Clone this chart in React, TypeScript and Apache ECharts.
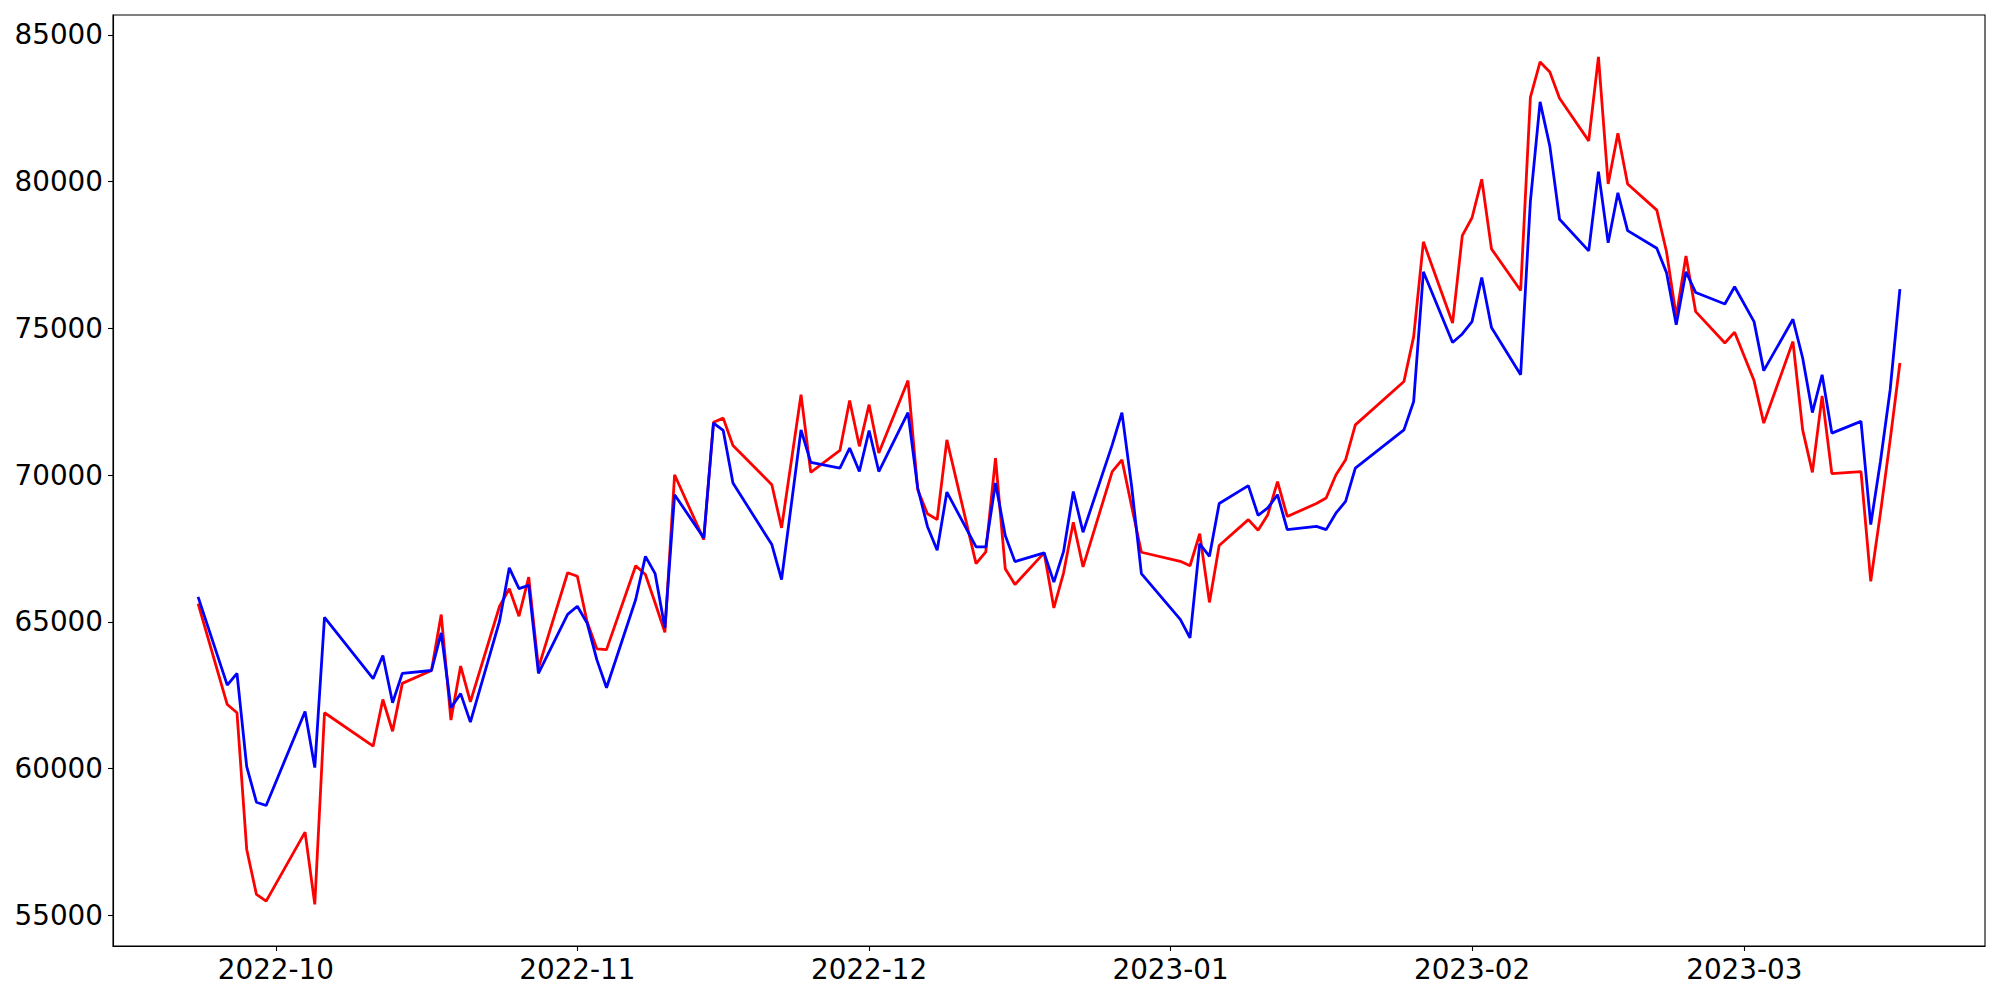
import React, { useEffect, useRef } from "react";
import * as echarts from "echarts";

const dates: string[] = [
  "2022-09-23", "2022-09-26", "2022-09-27", "2022-09-28", "2022-09-29", "2022-09-30",
  "2022-10-04", "2022-10-05", "2022-10-06", "2022-10-11", "2022-10-12", "2022-10-13", "2022-10-14",
  "2022-10-17", "2022-10-18", "2022-10-19", "2022-10-20", "2022-10-21",
  "2022-10-24", "2022-10-25", "2022-10-26", "2022-10-27", "2022-10-28",
  "2022-10-31", "2022-11-01", "2022-11-02", "2022-11-03", "2022-11-04",
  "2022-11-07", "2022-11-08", "2022-11-09", "2022-11-10", "2022-11-11",
  "2022-11-14", "2022-11-15", "2022-11-16", "2022-11-17",
  "2022-11-21", "2022-11-22", "2022-11-24", "2022-11-25",
  "2022-11-28", "2022-11-29", "2022-11-30", "2022-12-01", "2022-12-02",
  "2022-12-05", "2022-12-06", "2022-12-07", "2022-12-08", "2022-12-09",
  "2022-12-12", "2022-12-13", "2022-12-14", "2022-12-15", "2022-12-16",
  "2022-12-19", "2022-12-20", "2022-12-21", "2022-12-22", "2022-12-23",
  "2022-12-26", "2022-12-27", "2022-12-28", "2022-12-29",
  "2023-01-02", "2023-01-03", "2023-01-04", "2023-01-05", "2023-01-06",
  "2023-01-09", "2023-01-10", "2023-01-11", "2023-01-12", "2023-01-13",
  "2023-01-16", "2023-01-17", "2023-01-18", "2023-01-19", "2023-01-20",
  "2023-01-25", "2023-01-26", "2023-01-27",
  "2023-01-30", "2023-01-31", "2023-02-01", "2023-02-02", "2023-02-03",
  "2023-02-06", "2023-02-07", "2023-02-08", "2023-02-09", "2023-02-10",
  "2023-02-13", "2023-02-14", "2023-02-15", "2023-02-16", "2023-02-17",
  "2023-02-20", "2023-02-21", "2023-02-22", "2023-02-23", "2023-02-24",
  "2023-02-27", "2023-02-28", "2023-03-02", "2023-03-03",
  "2023-03-06", "2023-03-07", "2023-03-08", "2023-03-09", "2023-03-10",
  "2023-03-13", "2023-03-14", "2023-03-15", "2023-03-16", "2023-03-17",
];

const redValues: number[] = [
  65620, 62180, 61900, 57240, 55710, 55480,
  57830, 55370, 61900, 60760, 62350, 61270, 62900,
  63340, 65245, 61650, 63490, 62270,
  65530, 66130, 65190, 66520, 63430,
  66670, 66550, 65000, 64080, 64050,
  66910, 66610, 65640, 64640, 70010,
  67800, 71800, 71940, 71010,
  69670, 68200, 72740, 70090,
  70840, 72540, 70980, 72400, 70750,
  73220, 69500, 68680, 68480, 71200,
  66980, 67380, 70580, 66810, 66270,
  67350, 65470, 66670, 68390, 66870,
  70120, 70520, 68930, 67370,
  67060, 66910, 68000, 65660, 67600,
  68480, 68120, 68650, 69780, 68590,
  69030, 69220, 70000, 70520, 71710,
  73190, 74720, 77950,
  75180, 78160, 78770, 80080, 77710,
  76290, 82870, 84080, 83740, 82840,
  81390, 84250, 79920, 81650, 79920,
  79030, 77610, 75400, 77470, 75570,
  74500, 74870, 73220, 71770,
  74550, 71540, 70090, 72700, 70050,
  70120, 66380, 68710, 71200, 73820,
];

const blueValues: number[] = [
  65850, 62840, 63240, 60060, 58850, 58740,
  61940, 60030, 65150, 63060, 63850, 62240, 63240,
  63340, 64620, 62070, 62550, 61580,
  65020, 66840, 66130, 66240, 63240,
  65250, 65530, 64960, 63710, 62750,
  65760, 67230, 66640, 64790, 69330,
  67860, 71770, 71520, 69730,
  67630, 66440, 71540, 70430,
  70240, 70920, 70120, 71520, 70120,
  72130, 69560, 68250, 67440, 69420,
  67550, 67550, 69730, 67940, 67050,
  67350, 66350, 67400, 69440, 68050,
  71030, 72130, 69610, 66640,
  65080, 64450, 67660, 67230, 69030,
  69640, 68630, 68880, 69330, 68140,
  68250, 68140, 68700, 69100, 70240,
  71540, 72510, 76930,
  74520, 74810, 75230, 76730, 75030,
  73420, 79320, 82720, 81210, 78720,
  77640, 80340, 77920, 79620, 78330,
  77730, 76900, 75120, 76930, 76220,
  75830, 76420, 75230, 73560,
  75310, 73990, 72130, 73420, 71430,
  71830, 68310, 70470, 72910, 76340,
];

const xTickLabels: string[] = ["2022-10", "2022-11", "2022-12", "2023-01", "2023-02", "2023-03"];
const yTickValues: number[] = [55000, 60000, 65000, 70000, 75000, 80000, 85000];

const DAY = 86400000;
// date string -> day number (days since 1970-01-01, UTC)
const toDay = (s: string): number => {
  const p = s.split("-").map(Number);
  return Math.round(Date.UTC(p[0], p[1] - 1, p[2] || 1) / DAY);
};

export default function App() {
  const ref = useRef<HTMLDivElement>(null);
  useEffect(() => {
    if (!ref.current) return;
    const chart = echarts.init(ref.current, undefined, { renderer: "svg" });
    const xs = dates.map(toDay);
    const x0 = xs[0];
    const x1 = xs[xs.length - 1];
    const pad = (x1 - x0) * 0.05;
    const xTicks = xTickLabels.map(toDay);
    const font = {
      fontFamily: "DejaVu Sans",
      fontSize: 27.8,
      color: "#000",
    };
    chart.setOption({
      animation: false,
      backgroundColor: "#fff",
      grid: {
        left: 113,
        right: 15,
        top: 15,
        bottom: 54,
        show: true,
        borderColor: "#000",
        borderWidth: 1.1,
        backgroundColor: "transparent",
      },
      xAxis: {
        type: "value",
        min: x0 - pad,
        max: x1 + pad,
        splitLine: { show: false },
        axisLine: { show: true, lineStyle: { color: "#000", width: 1.1 } },
        axisTick: {
          show: true,
          length: 5,
          lineStyle: { color: "#000", width: 1.1 },
          customValues: xTicks,
        },
        axisLabel: {
          ...font,
          margin: 9,
          customValues: xTicks,
          formatter: (v: number) => {
            const i = xTicks.indexOf(Math.round(v));
            return i >= 0 ? xTickLabels[i] : "";
          },
        },
      },
      yAxis: {
        type: "value",
        min: 53950,
        max: 85680,
        splitLine: { show: false },
        axisLine: { show: true, lineStyle: { color: "#000", width: 1.1 } },
        axisTick: {
          show: true,
          length: 5,
          lineStyle: { color: "#000", width: 1.1 },
          customValues: yTickValues,
        },
        axisLabel: {
          ...font,
          margin: 10,
          customValues: yTickValues,
          formatter: (v: number) => String(v),
        },
      },
      series: [
        {
          type: "line",
          name: "red",
          symbol: "none",
          lineStyle: { color: "#ff0000", width: 2.8 },
          itemStyle: { color: "#ff0000" },
          data: xs.map((x, i) => [x, redValues[i]]),
        },
        {
          type: "line",
          name: "blue",
          symbol: "none",
          lineStyle: { color: "#0000ff", width: 2.8 },
          itemStyle: { color: "#0000ff" },
          data: xs.map((x, i) => [x, blueValues[i]]),
        },
      ],
    });
    return () => chart.dispose();
  }, []);
  return (
    <div
      ref={ref}
      style={{ position: "fixed", left: 0, top: 0, width: 2000, height: 1000, background: "#fff" }}
    />
  );
}
